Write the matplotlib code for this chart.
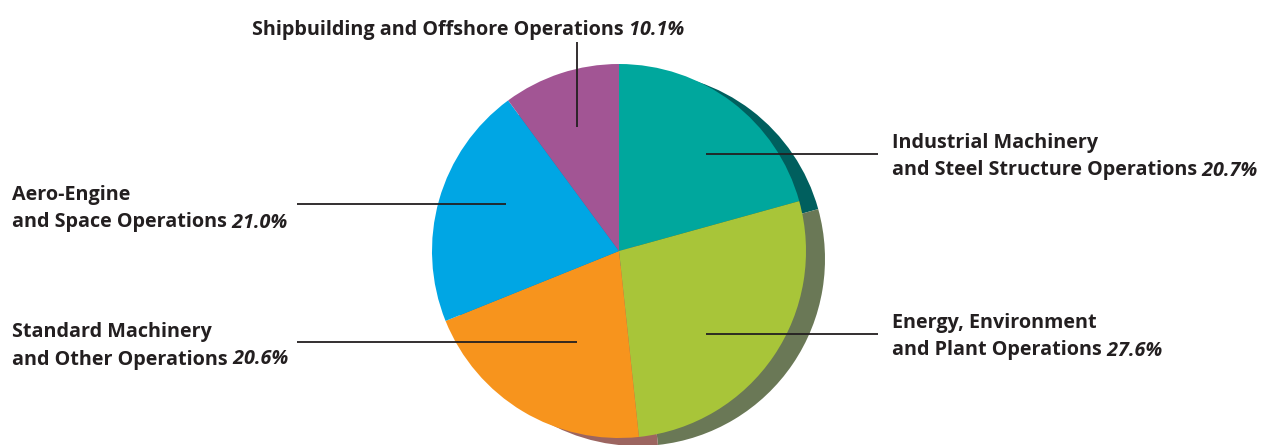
import matplotlib
matplotlib.use("Agg")
import matplotlib.pyplot as plt

# segment data, clockwise from 12 o'clock
names = ["Industrial Machinery\nand Steel Structure Operations",
         "Energy, Environment\nand Plant Operations",
         "Standard Machinery\nand Other Operations",
         "Aero-Engine\nand Space Operations",
         "Shipbuilding and Offshore Operations"]
shares = [20.7, 27.6, 20.6, 21.0, 10.1]
colors = ["#00A79D", "#A8C539", "#F7941D", "#00A6E4", "#A25594"]
shadow_colors = ["#005F5E", "#6A7856", "#9C6560", "#2A6F8F", "#6A3A66"]

W, H = 1263, 445
fig = plt.figure(figsize=(W / 100, H / 100), dpi=100)
ax = fig.add_axes([0, 0, 1, 1])

cx, cy, r = 619, H - 251, 187

# offset shadow copy for the 3D look
ax.pie(shares, colors=shadow_colors, startangle=90, counterclock=False,
       center=(cx + 19, cy - 8), radius=r, frame=True,
       wedgeprops=dict(linewidth=0))
ax.pie(shares, colors=colors, startangle=90, counterclock=False,
       center=(cx, cy), radius=r, frame=True,
       wedgeprops=dict(linewidth=0))

ax.set_xlim(0, W)
ax.set_ylim(0, H)
ax.set_aspect("equal")
ax.axis("off")

# leader lines (pixel coords, y from top)
leaders = [((706, 154), (878, 154)),
           ((706, 334), (878, 334)),
           ((577, 342), (297, 342)),
           ((506, 204), (297, 204)),
           ((577, 127), (577, 42))]
for (x0, y0), (x1, y1) in leaders:
    ax.plot([x0, x1], [H - y0, H - y1], color="#231F20", lw=1.3,
            solid_capstyle="butt")

# label anchor: x, baseline y of first line (from top), alignment
label_pos = [(892, 148, "left"), (892, 328, "left"), (12, 337, "left"),
             (12, 200, "left"), (468, 35, "center")]
fam = ["Open Sans", "DejaVu Sans"]
fs = 14.2
lh = 27.5

fig.canvas.draw()
rend = fig.canvas.get_renderer()
inv = ax.transData.inverted()
for name, val, (lx, ly, ha) in zip(names, shares, label_pos):
    lines = name.split("\n")
    pct = f" {val:.1f}%"
    for i, line in enumerate(lines):
        y = H - (ly + i * lh)
        last = i == len(lines) - 1
        if ha == "center" and last:
            # measure full width to center bold + italic parts together
            t1 = ax.text(0, 0, line, fontsize=fs, fontweight="bold", family=fam)
            t2 = ax.text(0, 0, pct, fontsize=fs, fontweight="bold",
                         fontstyle="italic", family=fam)
            w1 = t1.get_window_extent(rend).width
            w2 = t2.get_window_extent(rend).width
            t1.remove()
            t2.remove()
            x = lx - (w1 + w2) / 2
        else:
            x = lx
        t = ax.text(x, y, line, fontsize=fs, fontweight="bold", family=fam,
                    color="#231F20", ha="left", va="baseline")
        if last:
            bb = t.get_window_extent(rend)
            xe = inv.transform((bb.x1, bb.y1))[0]
            ax.text(xe, y, pct, fontsize=fs, fontweight="bold",
                    fontstyle="italic", family=fam, color="#231F20",
                    ha="left", va="baseline")

fig.savefig("out.png", dpi=100)
